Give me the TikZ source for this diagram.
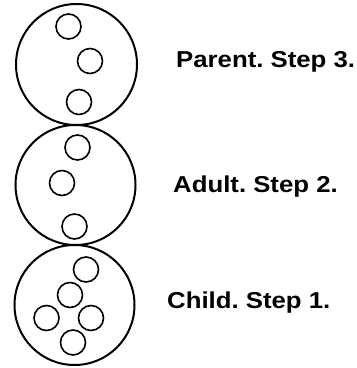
\documentclass[tikz,border=0pt]{standalone}
\usepackage{fontspec}
\setmainfont{Liberation Sans}
\newfontfamily\labfont{Liberation Sans}[FakeStretch=1.12]
\frenchspacing
\begin{document}
\begin{tikzpicture}[x=1pt,y=-1pt,
  cell/.style={draw=black,line width=2pt},
  grain/.style={draw=black,line width=1.6pt},
  lab/.style={anchor=base west,inner sep=0pt,font=\labfont\fontsize{23}{25}\selectfont\bfseries}]
\useasboundingbox (0,0) rectangle (357,368);
% big circles
\draw[cell] (76.5,64.5) circle[radius=60.5];
\draw[cell] (75.5,185) circle[radius=60];
\draw[cell] (74.5,305) circle[radius=60];
% top: parent
\draw[grain] (68.5,26.5) circle[radius=12.5];
\draw[grain] (90,61) circle[radius=12.5];
\draw[grain] (79,102) circle[radius=12.5];
% middle: adult
\draw[grain] (77.5,147.5) circle[radius=12.5];
\draw[grain] (62,183) circle[radius=12.5];
\draw[grain] (74.5,226.5) circle[radius=12.5];
% bottom: child
\draw[grain] (86,269.5) circle[radius=12.5];
\draw[grain] (70,295) circle[radius=12.5];
\draw[grain] (46.5,318) circle[radius=12.5];
\draw[grain] (91,318) circle[radius=12.5];
\draw[grain] (73,342.5) circle[radius=12.5];
% labels
\node[lab] (p) at (176,67) {Parent. Step 3.};
\node[lab] (a) at (173,192) {Adult. Step 2.};
\node[lab] (c) at (167,308) {Child. Step 1.};
\end{tikzpicture}
\end{document}
